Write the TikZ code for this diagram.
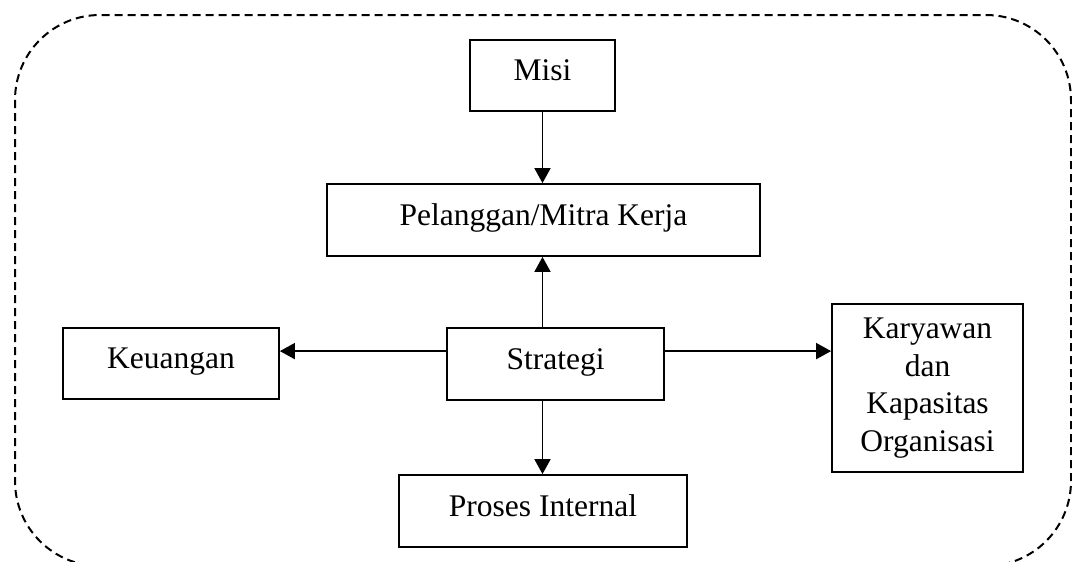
\documentclass[tikz,border=0pt]{standalone}
\usepackage{fontspec}
\setmainfont{Liberation Serif}
\usetikzlibrary{arrows.meta}
\begin{document}
\begin{tikzpicture}[x=1pt,y=-1pt,
  box/.style={draw, line width=1.8pt, inner sep=0pt, align=center,
    text height=22pt, text depth=12pt,
    font=\fontsize{31.5}{37.5}\selectfont},
  tallbox/.style={draw, line width=1.8pt, inner sep=0pt, align=center,
    font=\fontsize{31.5}{37.5}\selectfont},
  link/.style={line width=1.8pt, -{Triangle[length=15pt,width=16pt]}},
  frame/.style={line width=2pt, dash pattern=on 8pt off 5pt, rounded corners=85pt}]
\useasboundingbox (0,0) rectangle (1072,562);

% dashed rounded frame around the scheme
\draw[frame] (15,15) rectangle (1071,566);

% boxes
\node[box, minimum width=145pt, minimum height=71pt] (misi) at (542.5,75.5) {Misi};
\node[box, minimum width=433pt, minimum height=72pt] (pelanggan) at (543.5,220) {Pelanggan/Mitra Kerja};
\node[box, minimum width=217pt, minimum height=72pt] (strategi) at (555.5,364) {Strategi};
\node[box, minimum width=216pt, minimum height=71pt] (keuangan) at (171,363.5) {Keuangan};
\node[tallbox, minimum width=191pt, minimum height=168pt] (karyawan) at (927.5,388) {Karyawan\\dan\\Kapasitas\\Organisasi};
\node[box, minimum width=288pt, minimum height=72pt] (proses) at (543,511) {Proses Internal};

% exit points of the horizontal connectors
\coordinate (sl) at ([yshift=-24pt]strategi.north west);
\coordinate (sr) at ([yshift=-24pt]strategi.north east);

% connectors
\draw[link] (misi.south) -- (misi.south |- pelanggan.north);
\draw[link] (strategi.north -| misi.south) -- (misi.south |- pelanggan.south);
\draw[link] (strategi.south -| misi.south) -- (misi.south |- proses.north);
\draw[link] (sl) -- (sl -| keuangan.east);
\draw[link] (sr) -- (sr -| karyawan.west);
\end{tikzpicture}
\end{document}
